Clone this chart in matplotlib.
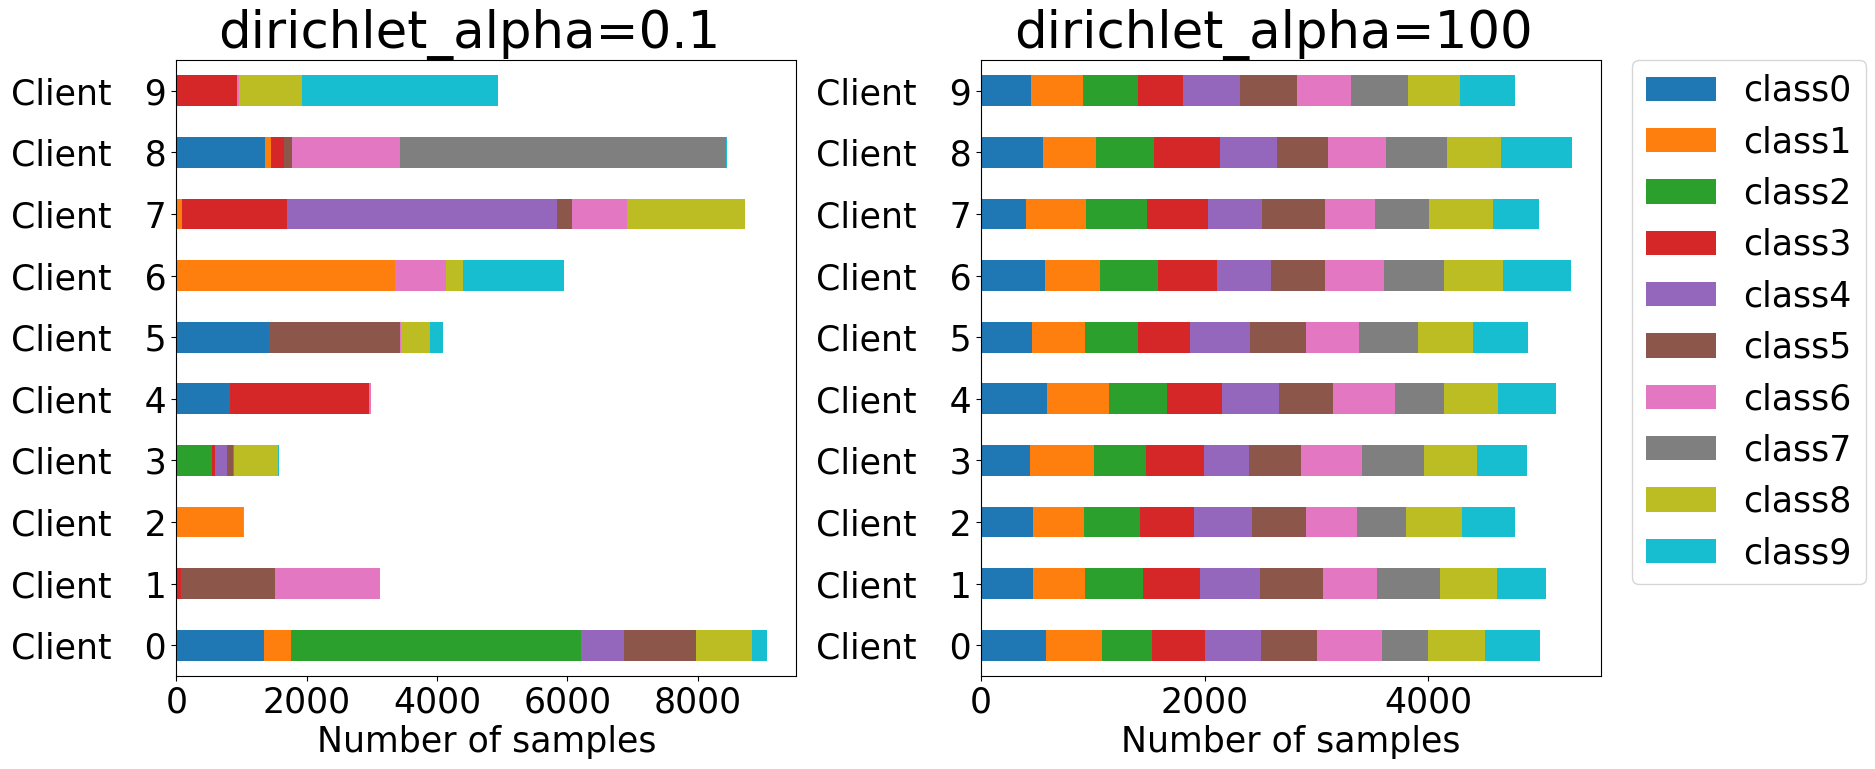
import numpy as np
import matplotlib
matplotlib.use("Agg")
import matplotlib.pyplot as plt
from matplotlib.ticker import MultipleLocator

classes = ["class%d" % i for i in range(10)]
clients = ["Client   %d" % i for i in range(10)]

# samples per class for each client (rows = client 0..9, cols = class0..class9)
counts_a01 = [
    [1351, 414, 4452, 0, 646, 1118, 0, 0, 847, 233],
    [0, 0, 0, 74, 0, 1444, 1613, 0, 0, 0],
    [0, 1031, 0, 0, 0, 0, 11, 0, 0, 0],
    [0, 0, 550, 48, 185, 90, 0, 15, 677, 11],
    [825, 0, 0, 2136, 0, 0, 27, 0, 0, 0],
    [1428, 0, 0, 0, 0, 2009, 6, 8, 446, 201],
    [0, 3353, 0, 0, 0, 0, 793, 0, 254, 1549],
    [0, 90, 0, 1613, 4146, 227, 844, 0, 1812, 0],
    [1364, 90, 0, 201, 0, 122, 1660, 4991, 0, 26],
    [0, 0, 0, 936, 0, 0, 20, 0, 974, 2999],
]

counts_a100 = [
    [578, 502, 453, 472, 502, 501, 575, 413, 509, 494],
    [461, 469, 519, 509, 538, 567, 476, 563, 513, 439],
    [461, 458, 501, 487, 519, 483, 451, 446, 494, 476],
    [436, 574, 465, 520, 406, 465, 545, 549, 475, 447],
    [589, 556, 520, 491, 512, 483, 549, 439, 483, 520],
    [454, 476, 472, 468, 538, 501, 469, 527, 494, 494],
    [571, 490, 524, 527, 483, 486, 520, 545, 520, 611],
    [399, 538, 545, 549, 483, 567, 447, 476, 574, 414],
    [553, 475, 520, 589, 513, 450, 519, 546, 483, 637],
    [443, 468, 491, 406, 509, 512, 483, 512, 458, 494],
]

titles = ["dirichlet_alpha=0.1", "dirichlet_alpha=100"]

fig, axes = plt.subplots(1, 2, figsize=(18.75, 7.69), dpi=100)
fig.subplots_adjust(left=0.094, right=0.854, bottom=0.121, top=0.922, wspace=0.298)

colors = plt.rcParams['axes.prop_cycle'].by_key()['color']
y = np.arange(len(clients))

for ax, data, title in zip(axes, [counts_a01, counts_a100], titles):
    data = np.array(data)
    left = np.zeros(len(clients))
    for k in range(len(classes)):
        ax.barh(y, data[:, k], height=0.5, left=left, color=colors[k], label=classes[k])
        left = left + data[:, k]
    ax.set_xlim(0, left.max() * 1.05)
    ax.set_ylim(-0.5, len(clients) - 0.5)
    ax.xaxis.set_major_locator(MultipleLocator(2000))
    ax.set_yticks(y)
    ax.set_yticklabels(clients)
    ax.tick_params(labelsize=25)
    ax.set_xlabel("Number of samples", fontsize=25)
    ax.set_title(title, fontsize=37, x=0.472)

axes[1].legend(bbox_to_anchor=(1.05, 1), loc="upper left", borderaxespad=0, fontsize=25)

plt.savefig("out.png")
